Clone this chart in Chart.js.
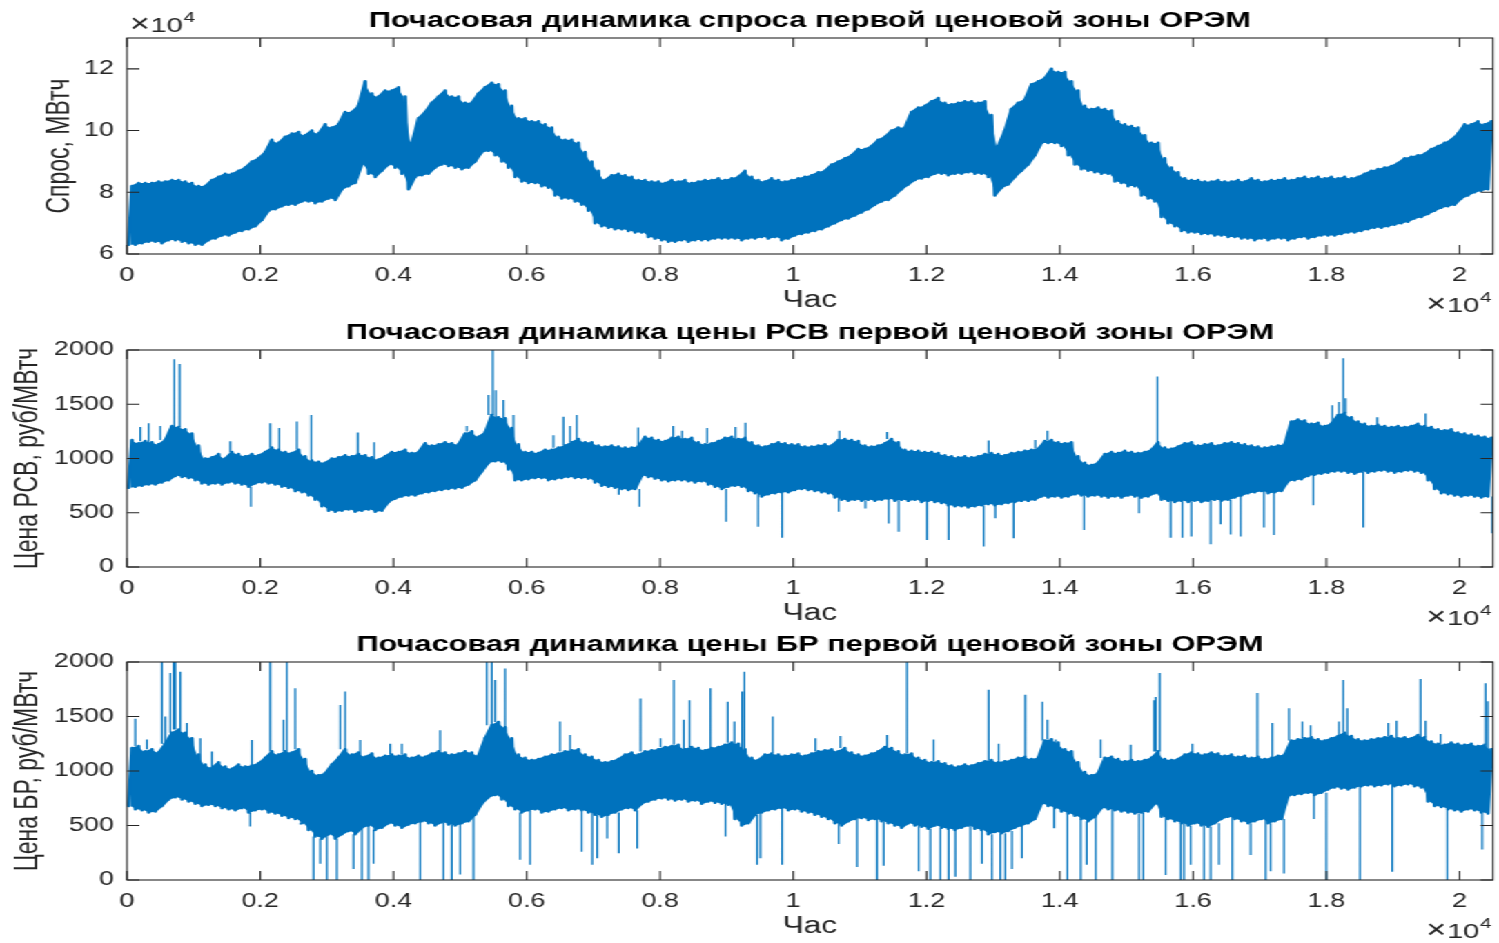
<!DOCTYPE html>
<html>
<head>
<meta charset="utf-8">
<script src="https://cdn.jsdelivr.net/npm/chart.js@4.4.1/dist/chart.umd.min.js"></script>
<style>
html,body{margin:0;padding:0;background:#fff;overflow:hidden;width:1499px;height:943px;}
#fig{position:absolute;left:0;top:0;width:1086px;height:943px;transform-origin:0 0;transform:scaleX(1.38029);}
#fig canvas{position:absolute;left:0;}
</style>
</head>
<body>
<div id="fig">
<canvas id="c1" width="1086" height="312" style="top:0px;width:1086px;height:312px"></canvas>
<canvas id="c2" width="1086" height="313" style="top:312px;width:1086px;height:313px"></canvas>
<canvas id="c3" width="1086" height="318" style="top:625px;width:1086px;height:318px"></canvas>
</div>
<script>
// ---------------- data (hourly series summarised per 100-hour bin) ----------------
const BIN_HOURS = 100;
const LAST_HOUR = 20500;
const xTickHours = [0, 2000, 4000, 6000, 8000, 10000, 12000, 14000, 16000, 18000, 20000];
const xTickLabels = ['0', '0.2', '0.4', '0.6', '0.8', '1', '1.2', '1.4', '1.6', '1.8', '2'];
const demandTicks = [6, 8, 10, 12];
const priceTicks = [0, 500, 1000, 1500, 2000];

const titles = [
  'Почасовая динамика спроса первой ценовой зоны ОРЭМ',
  'Почасовая динамика цены РСВ первой ценовой зоны ОРЭМ',
  'Почасовая динамика цены БР первой ценовой зоны ОРЭМ'
];
const yLabels = ['Спрос, МВтч', 'Цена РСВ, руб/МВтч', 'Цена БР, руб/МВтч'];
const xLabel = 'Час';

// demand, x10^4 MWh: upper and lower envelope per bin
const demandHi = [
  8.2, 8.3, 8.3, 8.3, 8.35, 8.35, 8.4, 8.4, 8.35, 8.3,
  8.2, 8.2, 8.4, 8.5, 8.6, 8.6, 8.7, 8.8, 9.0, 9.1,
  9.3, 9.7, 9.6, 9.8, 9.9, 9.95, 9.85, 10.0, 9.9, 10.2,
  10.1, 10.2, 10.6, 10.6, 10.8, 11.6, 11.2, 11.1, 11.3, 11.3,
  11.4, 11.1, 9.6, 10.4, 10.6, 10.9, 11.1, 11.3, 11.1, 11.1,
  10.9, 10.9, 11.2, 11.4, 11.55, 11.5, 11.3, 10.8, 10.4, 10.4,
  10.3, 10.3, 10.2, 10.1, 9.8, 9.7, 9.7, 9.6, 9.3,
  9.0, 8.7, 8.4, 8.55, 8.6, 8.55, 8.5, 8.4, 8.4, 8.35, 8.35,
  8.3, 8.4, 8.35, 8.4, 8.3, 8.35, 8.4, 8.4, 8.45, 8.4,
  8.45, 8.5, 8.7, 8.5, 8.4, 8.35, 8.45, 8.4, 8.35, 8.4,
  8.45, 8.5, 8.55, 8.65, 8.7, 8.9, 9.0, 9.1, 9.2, 9.4,
  9.4, 9.5, 9.7, 9.8, 10.0, 10.1, 10.1, 10.6, 10.75, 10.8,
  10.95, 11.05, 10.9, 10.85, 10.9, 10.95, 10.95, 10.9, 10.95, 10.5,
  9.5, 10.0, 10.7, 10.9, 11.0, 11.5, 11.6,
  11.7, 12.0, 11.9, 11.9, 11.6, 11.3, 10.8, 10.7, 10.75, 10.7,
  10.65, 10.3, 10.2, 10.15, 10.1, 9.85, 9.6, 9.6, 9.1, 8.8,
  8.65, 8.45, 8.4, 8.4, 8.35, 8.35, 8.4, 8.35, 8.35, 8.4,
  8.35, 8.45, 8.4, 8.35, 8.4, 8.4, 8.45, 8.4, 8.45, 8.5,
  8.45, 8.5, 8.45, 8.5, 8.45, 8.5, 8.45, 8.5, 8.6, 8.7,
  8.75, 8.8, 8.85, 8.95, 9.1, 9.15, 9.2, 9.25, 9.4, 9.5,
  9.6, 9.7, 9.9, 10.2, 10.2, 10.3, 10.2, 10.3
];
const demandLo = [
  6.3, 6.3, 6.35, 6.4, 6.4, 6.35, 6.45, 6.45, 6.4, 6.35,
  6.3, 6.3, 6.45, 6.5, 6.6, 6.6, 6.7, 6.75, 6.8, 6.9,
  7.1, 7.4, 7.45, 7.55, 7.6, 7.6, 7.7, 7.7, 7.65, 7.7,
  7.8, 7.75, 8.1, 8.2, 8.3, 8.9, 8.6, 8.5, 8.7, 8.9,
  8.8, 8.6, 8.1, 8.5, 8.55, 8.6, 8.8, 8.9, 8.85, 8.8,
  8.75, 8.8, 9.0, 9.3, 9.35, 9.2, 9.0, 8.8, 8.5, 8.35,
  8.3, 8.3, 8.2, 8.15, 7.9, 7.8, 7.8, 7.7, 7.6,
  7.4, 7.0, 6.9, 6.85, 6.8, 6.8, 6.75, 6.7, 6.7, 6.55, 6.5,
  6.45, 6.4, 6.4, 6.45, 6.4, 6.45, 6.45, 6.45, 6.5, 6.5,
  6.5, 6.5, 6.45, 6.5, 6.5, 6.55, 6.5, 6.55, 6.45, 6.5,
  6.6, 6.65, 6.7, 6.75, 6.8, 6.9, 7.0, 7.1, 7.15, 7.25,
  7.35, 7.45, 7.6, 7.7, 7.75, 7.9, 8.1, 8.25, 8.4, 8.45,
  8.5, 8.6, 8.6, 8.55, 8.6, 8.6, 8.65, 8.6, 8.6, 8.5,
  7.9, 8.15, 8.25, 8.5, 8.7, 8.9, 9.2,
  9.6, 9.6, 9.6, 9.5, 9.2, 8.9, 8.75, 8.7, 8.65, 8.6,
  8.6, 8.35, 8.3, 8.2, 8.2, 7.9, 7.8, 7.7, 7.2, 7.0,
  6.9, 6.75, 6.7, 6.7, 6.65, 6.65, 6.6, 6.6, 6.55, 6.55,
  6.5, 6.5, 6.45, 6.5, 6.45, 6.5, 6.5, 6.45, 6.5, 6.55,
  6.5, 6.55, 6.6, 6.6, 6.6, 6.65, 6.7, 6.7, 6.75, 6.8,
  6.85, 6.85, 6.9, 6.95, 7.0, 7.05, 7.15, 7.2, 7.3, 7.4,
  7.5, 7.55, 7.6, 7.8, 7.9, 8.0, 8.05, 8.1
];

// day-ahead (РСВ) price, rub/MWh
const rsvHi = [
  1170, 1140, 1160, 1150, 1130, 1170, 1300, 1290, 1270, 1230,
  1120, 1000, 1010, 1040, 1000, 1060, 1040, 1020, 1040, 1030,
  1060, 1100, 1080, 1060, 1050, 1080, 1020, 980, 970, 960,
  1000, 1010, 1030, 1020, 1040, 1030, 1010, 990, 1020, 1060,
  1060, 1080, 1050, 1060, 1140, 1120, 1130, 1150, 1140, 1130,
  1230, 1250, 1200, 1240, 1400, 1380, 1370, 1280, 1130, 1060,
  1060, 1050, 1080, 1080, 1100, 1120, 1150, 1180, 1150,
  1150, 1120, 1110, 1120, 1110, 1100, 1100, 1110, 1200, 1190, 1170,
  1160, 1190, 1200, 1180, 1190, 1150, 1130, 1140, 1160, 1190,
  1200, 1180, 1190, 1150, 1120, 1110, 1130, 1150, 1140, 1130,
  1130, 1110, 1110, 1120, 1130, 1120, 1170, 1180, 1170, 1160,
  1120, 1110, 1120, 1140, 1180, 1150, 1080, 1070, 1070, 1060,
  1060, 1050, 1030, 1020, 1010, 1020, 1010, 1020, 1040, 1050,
  1040, 1030, 1050, 1060, 1070, 1080, 1090,
  1160, 1170, 1150, 1140, 1150, 1020, 960, 940, 960, 1040,
  1060, 1050, 1070, 1060, 1050, 1060, 1080, 1150, 1100, 1090,
  1110, 1140, 1150, 1120, 1130, 1140, 1120, 1140, 1150, 1140,
  1130, 1120, 1110, 1100, 1110, 1120, 1130, 1340, 1360, 1350,
  1320, 1330, 1300, 1320, 1400, 1420, 1380, 1340, 1320, 1300,
  1310, 1300, 1290, 1300, 1290, 1300, 1320, 1300, 1290, 1270,
  1260, 1270, 1240, 1230, 1220, 1210, 1200, 1190
];
const rsvLo = [
  730, 740, 750, 760, 760, 780, 800, 840, 830, 820,
  800, 770, 760, 770, 760, 780, 770, 760, 740, 770,
  780, 770, 760, 740, 730, 700, 690, 660, 620, 560,
  520, 510, 520, 530, 510, 520, 530, 510, 520, 600,
  630, 650, 660, 660, 680, 690, 700, 710, 720, 725,
  730, 760, 800, 880, 960, 975, 970, 900, 800, 800,
  810, 820, 820, 800, 810, 820, 830, 820, 820,
  815, 780, 750, 740, 730, 720, 710, 720, 840, 830, 815,
  800, 790, 800, 800, 790, 780, 790, 760, 740, 720,
  740, 750, 740, 700, 680, 650, 670, 680, 690, 690,
  710, 720, 710, 700, 690, 680, 640, 620, 610, 620,
  610, 620, 610, 620, 630, 610, 620, 610, 620, 600,
  610, 600, 590, 570, 560, 560, 550, 560, 570, 580,
  570, 580, 590, 600, 610, 610, 620,
  650, 640, 650, 640, 650, 670, 660, 650, 660, 650,
  640, 650, 640, 660, 650, 640, 650, 680, 620, 610,
  600, 610, 600, 610, 600, 610, 620, 610, 620, 640,
  660, 680, 690, 700, 680, 690, 700, 790, 800, 810,
  840, 850, 860, 870, 880, 880, 870, 860, 880, 870,
  880, 890, 880, 870, 880, 890, 880, 870, 800, 720,
  680, 670, 660, 650, 660, 650, 640, 650
];
// isolated hourly spikes: [hour, rub/MWh]
const rsvSpikes = [
  [200, 1290], [325, 1325], [500, 1300], [710, 1915], [790, 1870], [875, 1260], [1550, 1160], [1860, 555],
  [2150, 1325], [2285, 1280], [2550, 1340], [2765, 1400], [3465, 1240], [3710, 1150], [5100, 1300],
  [5425, 1585], [5490, 2000], [5535, 1630], [5650, 1540], [5800, 1400], [6400, 1215], [6550, 1385],
  [6650, 1300], [6750, 1400],
  [7382, 665], [7672, 1285], [7692, 555], [8197, 1300], [8332, 1255], [8707, 1280], [8992, 418],
  [9132, 1290], [9282, 1330], [9472, 372], [9832, 270], [10682, 510], [10692, 1255], [11082, 540],
  [11407, 1245], [11432, 400], [11582, 325], [12007, 250], [12332, 250], [12857, 190], [12932, 1165],
  [13032, 450], [13307, 265], [13632, 1170],
  [13814, 1255], [14364, 340], [15189, 495], [15464, 1755], [15664, 270], [15839, 270], [15974, 280],
  [16264, 210], [16414, 395], [16564, 300], [16714, 280], [17064, 363], [17214, 295], [17804, 570],
  [18089, 1490], [18189, 1520], [18254, 1925], [18289, 1555], [18554, 363], [18764, 1380], [19489, 1415],
  [20489, 310]
];

// balancing market (БР) price, rub/MWh
const brHi = [
  1210, 1230, 1180, 1200, 1170, 1250, 1350, 1380, 1350, 1300,
  1150, 1060, 1030, 1080, 1040, 1020, 1060, 1040, 1050, 1070,
  1120, 1180, 1150, 1180, 1170, 1200, 1110, 1000, 960, 980,
  1060, 1120, 1200, 1150, 1170, 1130, 1160, 1120, 1140, 1150,
  1140, 1150, 1120, 1140, 1130, 1160, 1180, 1170, 1150, 1160,
  1180, 1170, 1140, 1300, 1420, 1450, 1400, 1300, 1150, 1120,
  1100, 1110, 1130, 1150, 1160, 1180, 1190, 1200, 1150,
  1130, 1100, 1080, 1090, 1110, 1150, 1170, 1150, 1180, 1190, 1200,
  1220, 1230, 1240, 1200, 1220, 1210, 1190, 1210, 1220, 1240,
  1260, 1250, 1200, 1120, 1100, 1150, 1160, 1150, 1140, 1150,
  1160, 1140, 1160, 1180, 1190, 1200, 1180, 1210, 1170, 1150,
  1140, 1160, 1180, 1220, 1210, 1180, 1150, 1160, 1120, 1100,
  1080, 1090, 1070, 1050, 1040, 1060, 1050, 1070, 1090, 1100,
  1080, 1090, 1100, 1120, 1130, 1110, 1120,
  1280, 1290, 1260, 1200, 1180, 1080, 990, 960, 980, 1120,
  1130, 1110, 1090, 1100, 1090, 1100, 1120, 1180, 1110, 1100,
  1110, 1150, 1170, 1160, 1150, 1170, 1160, 1140, 1150, 1130,
  1140, 1120, 1130, 1110, 1120, 1140, 1150, 1280, 1290, 1300,
  1310, 1290, 1280, 1300, 1320, 1350, 1320, 1290, 1280, 1290,
  1300, 1310, 1320, 1300, 1310, 1300, 1330, 1310, 1270, 1250,
  1240, 1260, 1250, 1240, 1250, 1230, 1240, 1200
];
const brLo = [
  680, 650, 640, 620, 630, 680, 740, 760, 740, 720,
  700, 680, 690, 680, 660, 650, 640, 660, 620, 640,
  650, 620, 610, 590, 570, 560, 520, 460, 400, 380,
  420, 380, 420, 450, 420, 480, 500, 460, 480, 520,
  500, 480, 510, 520, 540, 520, 500, 530, 510, 500,
  520, 540, 600, 700, 760, 780, 740, 680, 650, 620,
  640, 650, 620, 630, 650, 660, 640, 650, 640,
  620, 600, 580, 600, 620, 650, 660, 640, 700, 720, 740,
  750, 740, 730, 740, 720, 730, 700, 720, 710, 700,
  690, 560, 500, 520, 600, 620, 640, 650, 660, 640,
  650, 630, 620, 600, 580, 560, 520, 500, 540, 560,
  570, 550, 560, 540, 520, 500, 480, 520, 500, 490,
  470, 500, 480, 470, 460, 480, 500, 470, 460, 420,
  440, 430, 450, 480, 500, 520, 560,
  700, 680, 660, 630, 610, 590, 560, 540, 580, 660,
  650, 640, 630, 620, 610, 620, 630, 700, 580, 560,
  540, 520, 500, 520, 500, 490, 520, 560, 580, 560,
  540, 520, 540, 560, 520, 540, 560, 770, 780, 790,
  800, 780, 800, 830, 850, 840, 830, 850, 860, 870,
  860, 870, 880, 860, 870, 880, 860, 850, 720, 680,
  670, 650, 640, 630, 650, 640, 620, 610
];
const brSpikes = [
  [125, 1480], [300, 1290], [525, 2000], [575, 1500], [650, 1900], [700, 2000], [725, 2000], [800, 1910],
  [900, 1440], [1100, 1300], [1275, 1180], [1875, 1285], [2150, 2000], [2350, 1470], [2400, 2000],
  [2525, 1760], [3200, 1605], [3275, 1730], [3500, 1285], [3950, 1250], [4125, 1250], [4700, 1375],
  [5400, 2000], [5475, 2000], [5525, 1835], [5675, 1940], [6500, 1455], [6650, 1330],
  [1850, 490], [2600, 510], [2800, 0], [2900, 150], [3000, 0], [3150, 0], [3400, 100], [3525, 0],
  [3625, 0], [3700, 150], [4400, 0], [4750, 0], [4875, 0], [5000, 50], [5200, 0], [5900, 185],
  [6050, 140], [6825, 260],
  [7707, 1665], [8007, 1300], [8207, 1835], [8357, 1470], [8442, 1650], [8757, 1760], [9017, 1635],
  [9117, 1455], [9232, 1730], [9267, 1910], [9692, 1500], [10332, 1300], [10707, 1320], [11407, 1330],
  [11707, 2000], [12107, 1290], [12932, 1745], [13082, 1250], [13482, 1700],
  [6982, 140], [7057, 200], [7207, 380], [7382, 245], [7657, 290], [8982, 400], [9457, 140], [9507, 200],
  [9832, 140], [10682, 330], [10957, 120], [11257, 0], [11357, 130], [11882, 80], [12057, 0], [12207, 0],
  [12332, 0], [12432, 30], [12657, 0], [12832, 150], [12982, 0], [13107, 0], [13182, 0], [13282, 100],
  [13432, 200],
  [13739, 1635], [13814, 1470], [13939, 1290], [14614, 1290], [15064, 1240], [15414, 1650], [15439, 1680],
  [15499, 1900], [15989, 1250], [16964, 1715], [17189, 1440], [17439, 1575], [17639, 1455], [17764, 1420],
  [18189, 1455], [18254, 1835], [18314, 1575], [18929, 1440], [19054, 1460], [19414, 1845], [19489, 1460],
  [19714, 1340], [20389, 1805], [20424, 1640],
  [13914, 475], [14114, 0], [14314, 0], [14404, 140], [14539, 0], [14789, 0], [15189, 0], [15254, 0],
  [15589, 45], [15814, 0], [15864, 0], [15964, 140], [16164, 0], [16264, 0], [16389, 140], [16589, 0],
  [16864, 230], [17089, 0], [17164, 80], [17364, 60], [17814, 560], [17999, 0], [18504, 0], [18989, 75],
  [19814, 0], [20339, 280]
];

// ---------------- rendering ----------------
const BLUE = '#0072BD';
const AXIS = '#262626';
const FONT = "'Liberation Sans', Helvetica, Arial, sans-serif";
const TICK_FONT = 19.5;
const LABEL_FONT = 23;
const TITLE_FONT = 22.3;
const EXP_FONT = 21;
const TIMES_FONT = 25;
const SUP_FONT = 15;
const CW = 1086;            // canvas width (stretched horizontally by CSS)
const PLOT_LEFT = 92.0;
const PLOT_RIGHT = 1081.6;
const TICK_LEN = 9;

function bandPoints(lo, hi) {
  const pts = [];
  for (let i = 0; i < lo.length; i++) {
    pts.push({x: i * BIN_HOURS + 25, y: lo[i]});
    pts.push({x: i * BIN_HOURS + 75, y: hi[i]});
  }
  return pts;
}
function edgePoints(arr) {
  return arr.map((v, i) => ({x: i * BIN_HOURS + 50, y: v}));
}
function spikePoints(spikes, lo, hi) {
  const pts = [];
  spikes.forEach(([h, v]) => {
    const b = Math.min(lo.length - 1, Math.floor(h / BIN_HOURS));
    const base = v > hi[b] ? hi[b] : (v < lo[b] ? lo[b] : (lo[b] + hi[b]) / 2);
    pts.push({x: h, y: base}, {x: h, y: v}, {x: h, y: null});
  });
  return pts;
}

function drawExponent(ctx, x, baseline, alignRight) {
  ctx.save();
  ctx.fillStyle = AXIS;
  ctx.textBaseline = 'alphabetic';
  ctx.textAlign = 'left';
  ctx.font = `${TIMES_FONT}px ${FONT}`;
  const wx = ctx.measureText('\u00D7').width;
  ctx.font = `${EXP_FONT}px ${FONT}`;
  const w10 = ctx.measureText('10').width;
  ctx.font = `${SUP_FONT}px ${FONT}`;
  const w4 = ctx.measureText('4').width;
  const total = wx + 0.5 + w10 + 0.5 + w4;
  let px = alignRight ? x - total : x;
  ctx.font = `${TIMES_FONT}px ${FONT}`;
  ctx.fillText('\u00D7', px, baseline - 0.5);
  px += wx + 0.5;
  ctx.font = `${EXP_FONT}px ${FONT}`;
  ctx.fillText('10', px, baseline);
  px += w10 + 0.5;
  ctx.font = `${SUP_FONT}px ${FONT}`;
  ctx.fillText('4', px, baseline - 10);
  ctx.restore();
}

const framePlugin = {
  id: 'matlabFrame',
  afterDraw(chart, args, opts) {
    const {ctx, chartArea: a} = chart;
    const xs = chart.scales.x, ys = chart.scales.y;
    ctx.save();
    ctx.strokeStyle = AXIS;
    ctx.lineWidth = 1.1;
    ctx.strokeRect(a.left, a.top, a.right - a.left, a.bottom - a.top);
    ctx.beginPath();
    xs.ticks.forEach(t => {
      const px = xs.getPixelForValue(t.value);
      ctx.moveTo(px, a.bottom); ctx.lineTo(px, a.bottom - TICK_LEN);
      ctx.moveTo(px, a.top); ctx.lineTo(px, a.top + TICK_LEN);
    });
    ys.ticks.forEach(t => {
      const py = ys.getPixelForValue(t.value);
      ctx.moveTo(a.left, py); ctx.lineTo(a.left + TICK_LEN, py);
      ctx.moveTo(a.right, py); ctx.lineTo(a.right - TICK_LEN, py);
    });
    ctx.stroke();

    const cx = (a.left + a.right) / 2;
    ctx.fillStyle = '#000';
    ctx.textAlign = 'center';
    ctx.textBaseline = 'alphabetic';
    ctx.font = `bold ${TITLE_FONT}px ${FONT}`;
    ctx.fillText(opts.title, cx, a.top - 11);

    ctx.fillStyle = AXIS;
    ctx.font = `${LABEL_FONT}px ${FONT}`;
    ctx.fillText(xLabel, cx, a.bottom + 53);

    ctx.save();
    ctx.translate(opts.yLabelX, (a.top + a.bottom) / 2);
    ctx.rotate(-Math.PI / 2);
    ctx.fillText(opts.yLabel, 0, 0);
    ctx.restore();

    drawExponent(ctx, a.right - 1, a.bottom + 58, true);
    if (opts.topExponent) drawExponent(ctx, a.left + 2, a.top - 6, false);
    ctx.restore();
  }
};

function makeChart(id, cfg) {
  const canvas = document.getElementById(id);
  const datasets = [
    {data: edgePoints(cfg.lo), borderWidth: 0, pointRadius: 0, fill: false, tension: 0, clip: 0},
    {data: edgePoints(cfg.hi), borderWidth: 0, pointRadius: 0, fill: '-1', backgroundColor: BLUE, tension: 0, clip: 0},
    {
      data: bandPoints(cfg.lo, cfg.hi),
      borderColor: BLUE, borderWidth: 2.6, borderJoinStyle: 'round', borderCapStyle: 'round',
      pointRadius: 0, fill: false, tension: 0, clip: 0
    }
  ];
  if (cfg.spikes) {
    datasets.push({
      data: spikePoints(cfg.spikes, cfg.lo, cfg.hi),
      borderColor: BLUE, borderWidth: 1.3, pointRadius: 0, fill: false, tension: 0,
      spanGaps: false, clip: 0
    });
  }
  return new Chart(canvas, {
    type: 'line',
    data: {datasets},
    options: {
      responsive: false, animation: false, devicePixelRatio: 1, events: [],
      layout: {padding: {left: 0, right: CW - PLOT_RIGHT, top: cfg.top, bottom: 0}},
      plugins: {
        legend: {display: false}, tooltip: {enabled: false}, title: {display: false},
        filler: {propagate: false},
        matlabFrame: {title: cfg.title, yLabel: cfg.yLabel, yLabelX: cfg.yLabelX, topExponent: cfg.topExponent}
      },
      scales: {
        x: {
          type: 'linear', min: 0, max: LAST_HOUR,
          afterBuildTicks: s => { s.ticks = xTickHours.map(v => ({value: v})); },
          afterFit: s => { s.height = cfg.xAxisH; },
          ticks: {
            callback: v => xTickLabels[xTickHours.indexOf(v)],
            font: {family: FONT, size: TICK_FONT}, color: AXIS, padding: 10,
            maxRotation: 0, autoSkip: false, includeBounds: false
          },
          grid: {display: false, drawTicks: false, tickLength: 0},
          border: {display: false}
        },
        y: {
          type: 'linear', min: cfg.yMin, max: cfg.yMax,
          afterBuildTicks: s => { s.ticks = cfg.yTicks.map(v => ({value: v})); },
          afterFit: s => { s.width = PLOT_LEFT; },
          ticks: {
            callback: v => String(v),
            font: {family: FONT, size: TICK_FONT}, color: AXIS, padding: 9.5,
            autoSkip: false, includeBounds: false
          },
          grid: {display: false, drawTicks: false, tickLength: 0},
          border: {display: false}
        }
      }
    },
    plugins: [framePlugin]
  });
}

makeChart('c1', {lo: demandLo, hi: demandHi, title: titles[0], yLabel: yLabels[0], yLabelX: 50,
  top: 38, xAxisH: 58, yMin: 6, yMax: 13, yTicks: demandTicks, topExponent: true});
makeChart('c2', {lo: rsvLo, hi: rsvHi, spikes: rsvSpikes, title: titles[1], yLabel: yLabels[1], yLabelX: 26.5,
  top: 38, xAxisH: 58, yMin: 0, yMax: 2000, yTicks: priceTicks});
makeChart('c3', {lo: brLo, hi: brHi, spikes: brSpikes, title: titles[2], yLabel: yLabels[2], yLabelX: 26.5,
  top: 37, xAxisH: 63, yMin: 0, yMax: 2000, yTicks: priceTicks});
</script>
</body>
</html>
